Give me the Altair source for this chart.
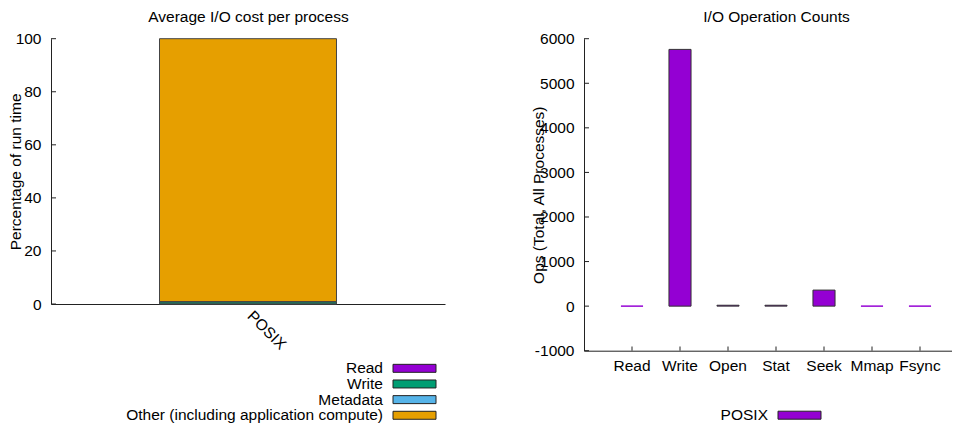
import altair as alt
import pandas as pd

FONT = "Liberation Sans"
FS = 15.5

# ---- data: left panel (average I/O cost per process, % of run time)
components = ["Read", "Write", "Metadata", "Other (including application compute)"]
component_pct = [0.05, 0.8, 0.05, 99.1]
component_colors = ["#9400D3", "#009E73", "#56B4E9", "#E69F00"]
interfaces = ["POSIX"]
pct_ticks = [0, 20, 40, 60, 80, 100]

# ---- data: right panel (I/O operation counts)
ops = ["Read", "Write", "Open", "Stat", "Seek", "Mmap", "Fsync"]
op_counts = [0, 5760, 20, 20, 360, 0, 0]
ops_ticks = [-1000, 0, 1000, 2000, 3000, 4000, 5000, 6000]
apis = ["POSIX"]
api_colors = ["#9400D3"]

W, H = 944, 421

left_df = pd.DataFrame({
    "interface": interfaces[0],
    "component": components,
    "pct": component_pct,
    "ord": list(range(len(components))),
})
right_df = pd.DataFrame({"op": ops, "count": op_counts, "api": apis[0]})

# ---------- scales ----------
xL = alt.Scale(domain=interfaces, range=[43, 437], paddingInner=0, paddingOuter=0.613)
yL = alt.Scale(domain=[0, 100], range=[296, 30.7], nice=False, zero=False)
xR = alt.Scale(domain=ops, range=[576, 960], paddingInner=0.54, paddingOuter=0.77)
yR = alt.Scale(domain=[-1000, 6000], range=[342.7, 30.7], nice=False, zero=False)
colL = alt.Scale(domain=components, range=component_colors)
colR = alt.Scale(domain=apis, range=api_colors)
legL = alt.Scale(domain=components, range=[352.5, 415.1], paddingInner=0.49, paddingOuter=0.245)
legR = alt.Scale(domain=apis, range=[399.2, 415.2], paddingInner=0.5, paddingOuter=0.25)

yaxisL = alt.Axis(
    orient="left", offset=-43, title="Percentage of run time",
    titleX=-36, titleY=163.4, titleAngle=270, titleBaseline="middle",
    titleAlign="center", values=pct_ticks, ticks=False, tickSize=0,
    labelPadding=10)
yaxisR = alt.Axis(
    orient="left", offset=-576, title="Ops (Total, All Processes)",
    titleX=-45.5, titleY=186.7, titleAngle=270, titleBaseline="middle",
    titleAlign="center", values=ops_ticks, ticks=False, tickSize=0,
    labelPadding=10, labelExpr="'' + datum.value")

# ---------- left panel ----------
bars_left = alt.Chart(left_df).mark_bar(stroke="#444", strokeWidth=1).encode(
    x=alt.X("interface:N", scale=xL, axis=alt.Axis(
        orient="bottom", offset=296 - H, title=None, labelAngle=45,
        labelAlign="left", labelBaseline="top", labelPadding=4, labelOffset=7,
        ticks=False, tickSize=0)),
    y=alt.Y("pct:Q", stack="zero", scale=yL, axis=yaxisL),
    color=alt.Color("component:N", scale=colL, legend=None),
    order=alt.Order("ord:Q", sort="ascending"),
)

ticks_left = alt.Chart(pd.DataFrame({"t": pct_ticks})).mark_rule(color="#222", strokeWidth=1).encode(
    y=alt.Y("t:Q", scale=yL, axis=yaxisL),
    x=alt.value(43), x2=alt.value(48),
)

title_left = alt.Chart(pd.DataFrame({"interface": interfaces})).mark_point(opacity=0).encode(
    x=alt.X("interface:N", scale=xL, axis=alt.Axis(
        orient="top", title="Average I/O cost per process", labels=False,
        ticks=False, domain=False, titleX=240, titleY=8, titleBaseline="middle",
        titleAlign="center")),
)

leg_df_left = pd.DataFrame({"component": components})
leg_sw_left = alt.Chart(leg_df_left).mark_rect(stroke="#222", strokeWidth=1).encode(
    y=alt.Y("component:N", scale=legL, axis=None, sort=components),
    x=alt.value(385), x2=alt.value(428),
    color=alt.Color("component:N", scale=colL, legend=None),
)
leg_tx_left = alt.Chart(leg_df_left).mark_text(
    align="right", baseline="middle", font=FONT, fontSize=FS, color="black"
).encode(
    y=alt.Y("component:N", scale=legL, axis=None, sort=components),
    x=alt.value(375),
    text="component:N",
)

left = alt.layer(
    alt.layer(bars_left, ticks_left, title_left),
    alt.layer(leg_sw_left, leg_tx_left),
).resolve_scale(y="independent")

# ---------- right panel ----------
bars_right = alt.Chart(right_df).mark_bar(strokeWidth=1).encode(
    x=alt.X("op:N", sort=ops, scale=xR, axis=alt.Axis(
        orient="bottom", offset=342.7 - H, title=None, labelAngle=0,
        labelAlign="center", labelBaseline="top", labelPadding=8,
        ticks=False, tickSize=0)),
    y=alt.Y("count:Q", scale=yR, axis=yaxisR),
    color=alt.Color("api:N", scale=colR, legend=None),
    stroke=alt.condition(alt.datum["count"] == 0, alt.value("#9400D3"), alt.value("#333")),
)

yticks_right = alt.Chart(pd.DataFrame({"t": ops_ticks})).mark_rule(color="#222", strokeWidth=1).encode(
    y=alt.Y("t:Q", scale=yR, axis=yaxisR),
    x=alt.value(576), x2=alt.value(581),
)

xticks_right = alt.Chart(pd.DataFrame({"op": ops})).mark_rule(color="#222", strokeWidth=1).encode(
    x=alt.X("op:N", sort=ops, scale=xR, axis=None),
    y=alt.value(342.7), y2=alt.value(338.5),
)

title_right = alt.Chart(pd.DataFrame({"op": ops})).mark_point(opacity=0).encode(
    x=alt.X("op:N", sort=ops, scale=xR, axis=alt.Axis(
        orient="top", title="I/O Operation Counts", labels=False,
        ticks=False, domain=False, titleX=768, titleY=8, titleBaseline="middle",
        titleAlign="center")),
)

leg_df_right = pd.DataFrame({"api": apis})
leg_sw_right = alt.Chart(leg_df_right).mark_rect(stroke="#222", strokeWidth=1).encode(
    y=alt.Y("api:N", scale=legR, axis=None),
    x=alt.value(770), x2=alt.value(813),
    color=alt.Color("api:N", scale=colR, legend=None),
)
leg_tx_right = alt.Chart(leg_df_right).mark_text(
    align="right", baseline="middle", font=FONT, fontSize=FS, color="black"
).encode(
    y=alt.Y("api:N", scale=legR, axis=None),
    x=alt.value(760),
    text="api:N",
)

right = alt.layer(
    alt.layer(bars_right, yticks_right, xticks_right, title_right),
    alt.layer(leg_sw_right, leg_tx_right),
).resolve_scale(y="independent")

chart = alt.layer(left, right).resolve_scale(
    x="independent", y="independent", color="independent"
).properties(
    width=W, height=H, autosize=alt.AutoSizeParams(type="none"), padding=0
).configure_view(stroke=None).configure_axis(
    labelFont=FONT, titleFont=FONT, labelFontSize=FS, titleFontSize=FS,
    labelColor="black", titleColor="black", domainColor="#222",
    titleFontWeight="normal", grid=False,
)

chart.save("out.html", embed_options={"renderer": "svg", "actions": False})
